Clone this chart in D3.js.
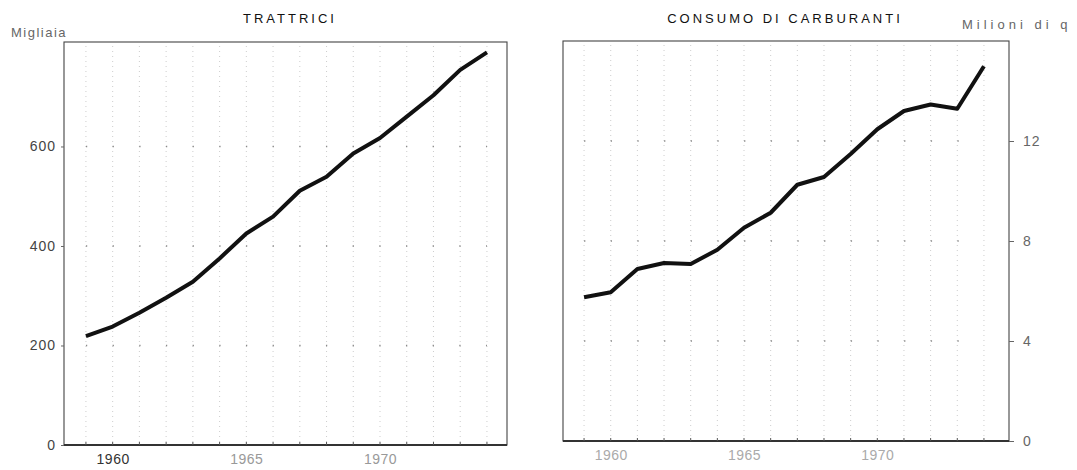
<!DOCTYPE html>
<html>
<head>
<meta charset="utf-8">
<script src="https://cdn.jsdelivr.net/npm/d3@7"></script>
<style>
  body { margin: 0; background: #fff; }
  svg { display: block; font-family: "Liberation Sans", Arial, sans-serif; }
</style>
</head>
<body>
<script>
// data
const years = [1959, 1960, 1961, 1962, 1963, 1964, 1965, 1966, 1967, 1968, 1969, 1970, 1971, 1972, 1973, 1974];
const trattrici = [219, 238, 266, 296, 328, 375, 425, 459, 511, 539, 586, 617, 660, 703, 754, 789];
const carburanti = [5.75, 5.95, 6.88, 7.12, 7.08, 7.65, 8.53, 9.13, 10.25, 10.56, 11.48, 12.47, 13.2, 13.46, 13.29, 14.99];
const leftTicks = [0, 200, 400, 600];
const rightTicks = [0, 4, 8, 12];
const yearLabels = [1960, 1965, 1970];

const W = 1077, H = 470;

const svg = d3.select('body').append('svg')
  .attr('width', W)
  .attr('height', H);

const panels = [
  { title: 'TRATTRICI', titleX: 290, unit: 'Migliaia', unitX: 11, unitY: 37, unitSpacing: 1.5,
    values: trattrici, ticks: leftTicks, side: 'left',
    x0: 64, x1: 507, top: 42, bottom: 445, xdom: [1958.18, 1974.75], ydom: [0, 810] },
  { title: 'CONSUMO DI CARBURANTI', titleX: 785, unit: 'Milioni di q', unitX: 962, unitY: 29, unitSpacing: 4,
    values: carburanti, ticks: rightTicks, side: 'right',
    x0: 563, x1: 1009, top: 41, bottom: 441, xdom: [1958.21, 1974.94], ydom: [0, 16] }
];

panels.forEach(p => {
  const x = d3.scaleLinear().domain(p.xdom).range([p.x0, p.x1]);
  const y = d3.scaleLinear().domain(p.ydom).range([p.bottom, p.top]);
  const g = svg.append('g');

  // faint dotted grid, like the scanned original
  g.append('g').selectAll('line')
    .data(years)
    .join('line')
    .attr('x1', d => x(d)).attr('x2', d => x(d))
    .attr('y1', p.top + 4).attr('y2', p.bottom)
    .attr('stroke', '#c0c0c0')
    .attr('stroke-width', 0.8)
    .attr('stroke-dasharray', '1,4');

  g.append('g').selectAll('line')
    .data(p.ticks.filter(d => d > 0))
    .join('line')
    .attr('x1', x(years[0])).attr('x2', x(years[years.length - 1]))
    .attr('y1', d => y(d)).attr('y2', d => y(d))
    .attr('stroke', '#8a8a8a')
    .attr('stroke-width', 1.3)
    .attr('stroke-dasharray', '1.3,25.37');

  // frame
  g.append('rect')
    .attr('x', p.x0).attr('y', p.top)
    .attr('width', p.x1 - p.x0).attr('height', p.bottom - p.top)
    .attr('fill', 'none')
    .attr('stroke', '#444')
    .attr('stroke-width', 1.1);
  g.append('line')
    .attr('x1', p.x0).attr('x2', p.x1)
    .attr('y1', p.bottom).attr('y2', p.bottom)
    .attr('stroke', '#333')
    .attr('stroke-width', 1.8);

  // y axis
  const yAxis = (p.side === 'left' ? d3.axisLeft(y) : d3.axisRight(y))
    .tickValues(p.ticks)
    .tickSize(p.side === 'left' ? 3 : 5)
    .tickPadding(p.side === 'left' ? 5 : 9);
  const ya = g.append('g')
    .attr('transform', 'translate(' + (p.side === 'left' ? p.x0 : p.x1) + ',0)')
    .call(yAxis);
  ya.select('.domain').remove();
  ya.selectAll('line').attr('stroke', '#666');
  ya.selectAll('text')
    .attr('fill', p.side === 'left' ? '#444' : '#666')
    .style('font-size', '14px')
    .style('letter-spacing', '1px');

  // x axis
  const xa = g.append('g')
    .attr('transform', 'translate(0,' + p.bottom + ')')
    .call(d3.axisBottom(x).tickValues(yearLabels).tickFormat(d3.format('d')).tickSize(0).tickPadding(9));
  xa.select('.domain').remove();
  xa.selectAll('text')
    .attr('fill', (d, i) => p.side === 'left' ? (i === 0 ? '#333' : '#999') : '#aaa')
    .style('font-size', '14px')
    .style('letter-spacing', '0.5px');

  // small year ticks on the base line
  g.append('g').selectAll('line')
    .data(years)
    .join('line')
    .attr('x1', d => x(d)).attr('x2', d => x(d))
    .attr('y1', p.bottom - 3).attr('y2', p.bottom)
    .attr('stroke', '#555');

  // the series
  g.append('path')
    .datum(p.values)
    .attr('fill', 'none')
    .attr('stroke', '#111')
    .attr('stroke-width', 4)
    .attr('stroke-linejoin', 'round')
    .attr('d', d3.line().x((d, i) => x(years[i])).y(d => y(d)));

  // titles
  svg.append('text')
    .attr('x', p.titleX).attr('y', 23)
    .attr('text-anchor', 'middle')
    .style('font-size', '13px')
    .style('letter-spacing', '3px')
    .attr('fill', '#111')
    .text(p.title);

  svg.append('text')
    .attr('x', p.unitX).attr('y', p.unitY)
    .style('font-size', '13px')
    .style('letter-spacing', p.unitSpacing + 'px')
    .attr('fill', '#666')
    .text(p.unit);
});
</script>
</body>
</html>
